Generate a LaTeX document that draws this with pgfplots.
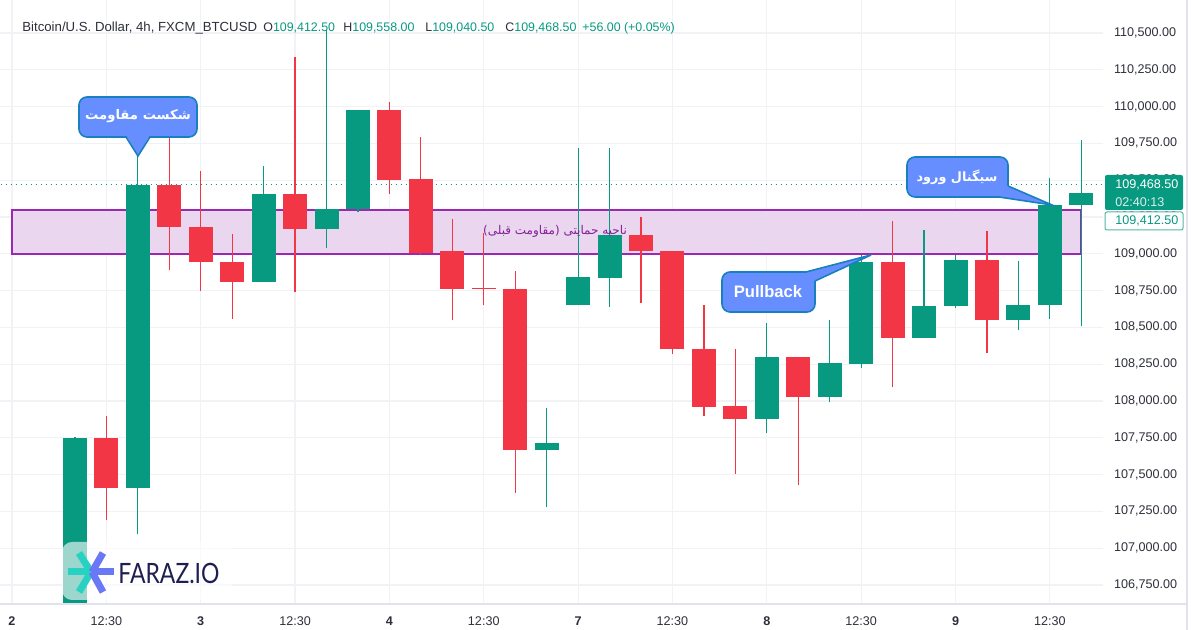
\documentclass[border=0pt]{standalone}
\usepackage{pgfplots}
\pgfplotsset{compat=1.18}
\usepackage{pgfplotstable}
\usepackage{fontspec}
\setmainfont{Liberation Sans}
\newfontfamily\fa[Script=Arabic]{DejaVu Sans}
\newfontfamily\logofont{Lato}
\TeXXeTstate=1
\definecolor{tvgreen}{HTML}{089981}
\definecolor{tvred}{HTML}{F23645}
\definecolor{zonefill}{RGB}{234,214,239}
\definecolor{zoneline}{HTML}{9C27B0}
\definecolor{gridc}{RGB}{240,242,246}
\definecolor{txt}{RGB}{45,48,58}
\definecolor{cfill}{RGB}{102,142,255}
\definecolor{cdraw}{RGB}{24,128,190}
\definecolor{logonavy}{RGB}{30,30,80}
\definecolor{logoteal}{RGB}{40,210,195}
\definecolor{logoblue}{RGB}{105,120,245}
\definecolor{framec}{RGB}{224,227,235}

\pgfplotstableread{
i O H L C
2 106450 107755 106400 107747
4 107410 109692 107095 109467
8 108809 109597 108805 109403
10 109168 110520 109040 109303
11 109303 109976 109283 109976
17 107670 107952 107280 107713
18 108651 109716 108651 108841
19 108836 109721 108638 109130
24 107878 108532 107783 108299
26 108024 108550 107990 108257
27 108250 108994 108223 108945
29 108428 109163 108428 108645
30 108642 108994 108629 108956
32 108550 108949 108484 108649
33 108649 109518 108554 109333
34 109330 109773 108509 109412
}\greentab
\pgfplotstableread{
i O H L C
3 107747 107901 107189 107410
5 109467 109795 108891 109185
6 109185 109559 108745 108945
7 108945 109137 108558 108809
9 109403 110337 108740 109168
12 109976 110032 109408 109500
13 109505 109795 108994 109005
14 109017 109238 108548 108764
15 108768 109141 108649 108761
16 108762 108881 107377 107670
20 109130 109249 108667 109017
21 109017 109017 108322 108351
22 108356 108651 107900 107961
23 107963 108356 107505 107878
25 108299 108299 107426 108024
28 108945 109224 108096 108428
31 108956 109152 108324 108550
}\redtab

\begin{document}
\begin{tikzpicture}
\path[use as bounding box, fill=white] (0,0) rectangle (600pt,315pt);
\begin{axis}[
  at={(0pt,13pt)}, anchor=south west,
  scale only axis, width=551.5pt, height=302pt,
  xmin=-0.3816, xmax=34.69, ymin=106621, ymax=110724,
  axis line style={draw=none}, tick style={draw=none},
  scaled y ticks=false,
  xtick={0,3,6,9,12,15,18,21,24,27,30,33},
  xticklabels={\textbf{2},12:30,\textbf{3},12:30,\textbf{4},12:30,\textbf{7},12:30,\textbf{8},12:30,\textbf{9},12:30},
  ytick={106750,107000,107250,107500,107750,108000,108250,108500,108750,109000,109250,109500,109750,110000,110250,110500},
  grid=major, major grid style={draw=gridc, line width=0.6pt},
  yticklabel pos=right,
  yticklabel style={/pgf/number format/fixed, /pgf/number format/fixed zerofill, /pgf/number format/precision=2, /pgf/number format/1000 sep={,}, /pgf/number format/assume math mode=true, font=\fontsize{6.3}{7}\selectfont, text=txt, anchor=west, xshift=2pt},
  xticklabel style={font=\fontsize{6.3}{7}\selectfont, text=txt, yshift=-3pt},
]
% support zone
\addplot[fill=zonefill, draw=zoneline, line width=0.9pt, forget plot] coordinates {(0,109000) (34,109000) (34,109300) (0,109300)} -- cycle;
% last price line
\addplot[tvgreen, dotted, line width=0.5pt, forget plot] coordinates {(-1,109468.5) (36,109468.5)};
% wicks
\addplot[draw=none, mark=none, forget plot, error bars/.cd, y dir=plus, y explicit, error mark=none, error bar style={draw=tvgreen, line width=0.6pt}]
  table[x=i, y=L, y error expr=\thisrow{H}-\thisrow{L}] {\greentab};
\addplot[draw=none, mark=none, forget plot, error bars/.cd, y dir=plus, y explicit, error mark=none, error bar style={draw=tvred, line width=0.6pt}]
  table[x=i, y=L, y error expr=\thisrow{H}-\thisrow{L}] {\redtab};
% bodies
\addplot[draw=none, mark=none, forget plot, error bars/.cd, y dir=plus, y explicit, error mark=none, error bar style={draw=tvgreen, line width=12pt}]
  table[x=i, y=O, y error expr=\thisrow{C}-\thisrow{O}] {\greentab};
\addplot[draw=none, mark=none, forget plot, error bars/.cd, y dir=plus, y explicit, error mark=none, error bar style={draw=tvred, line width=12pt}]
  table[x=i, y=C, y error expr=\thisrow{O}-\thisrow{C}] {\redtab};
\end{axis}

\begin{scope}[x=0.5pt, y=-0.5pt, shift={(0pt,315pt)}]
% frame lines
\draw[framec, line width=0.6pt] (0,604) -- (1187,604);
\draw[framec, line width=0.6pt] (1187,0) -- (1187,630);
% zone label
\node[font=\fa\fontsize{6}{7}\selectfont, text=zoneline!85!black] at (555,231) {\beginR ناحیه حمایتی (مقاومت قبلی)\endR};
% header
\begin{scope}[every node/.style={font=\fontsize{6.2}{7.5}\selectfont, anchor=west, inner sep=0pt, text=txt}]
\node[font=\fontsize{6.6}{7.5}\selectfont] at (22,28) {Bitcoin/U.S. Dollar, 4h, FXCM\_BTCUSD};
\node at (263,28) {O\textcolor{tvgreen}{109,412.50}};
\node at (343,28) {H\textcolor{tvgreen}{109,558.00}};
\node at (425,28) {L\textcolor{tvgreen}{109,040.50}};
\node at (505,28) {C\textcolor{tvgreen}{109,468.50}};
\node[text=tvgreen] at (582,28) {+56.00 (+0.05\%)};
\end{scope}
% price boxes
\fill[tvgreen, rounded corners=1pt] (1105,175) rectangle (1183,210);
\node[font=\fontsize{6.3}{7}\selectfont, text=white, anchor=west, inner sep=0pt] at (1115,185) {109,468.50};
\node[font=\fontsize{6.3}{7}\selectfont, text=white!85!tvgreen, anchor=west, inner sep=0pt] at (1115,202) {02:40:13};
\filldraw[fill=white, draw=tvgreen!70, line width=0.5pt, rounded corners=1pt] (1105,212) rectangle (1183,230);
\node[font=\fontsize{6.3}{7}\selectfont, text=tvgreen, anchor=west, inner sep=0pt] at (1115,221) {109,412.50};
% callout 1
\filldraw[fill=cfill, draw=cdraw, line width=0.8pt, rounded corners=4pt] (79,97) rectangle (197,137);
\fill[cfill] (126,135) -- (138,156) -- (150,135) -- cycle;
\draw[cdraw, line width=0.8pt, line join=miter] (126,137) -- (138,156) -- (150,137);
\node[font=\fa\bfseries\fontsize{6.6}{7}\selectfont, text=white] at (138,116) {\beginR شکست مقاومت\endR};
% callout 2
\filldraw[fill=cfill, draw=cdraw, line width=0.8pt, rounded corners=4pt] (907,157) rectangle (1008,197);
\fill[cfill] (999,197) -- (1052,205) -- (1008,186) -- (1000,186) -- cycle;
\draw[cdraw, line width=0.8pt] (999,197) -- (1052,205) -- (1008,186);
\node[font=\fa\bfseries\fontsize{6.4}{7}\selectfont, text=white] at (957,177) {\beginR سیگنال ورود\endR};
% callout 3
\filldraw[fill=cfill, draw=cdraw, line width=0.8pt, rounded corners=4pt] (722,272) rectangle (815,312);
\fill[cfill] (806,272.5) -- (871,255) -- (815,281) -- (806,281) -- cycle;
\draw[cdraw, line width=0.8pt] (806,272) -- (871,255) -- (815,281);
\node[font=\bfseries\fontsize{8.3}{9}\selectfont, text=white] at (768,292) {Pullback};
% logo
\fill[white, opacity=0.6, rounded corners=5pt] (62,542) rectangle (232,600);
\draw[logoteal, line width=3.5pt] (91,572) -- (79,553);
\draw[logoteal, line width=3.5pt] (91,572) -- (68,572);
\draw[logoteal, line width=3.5pt] (91,572) -- (79,592);
\draw[logoblue, line width=3.5pt] (92,572) -- (103,553);
\draw[logoblue, line width=3.5pt] (92,572) -- (114,572);
\draw[logoblue, line width=3.5pt] (92,572) -- (103,592);
\node[font=\logofont\fontsize{14}{15}\selectfont, text=logonavy, anchor=west, inner sep=0pt, xscale=0.82] at (118,573) {FARAZ.IO};
\end{scope}
\end{tikzpicture}
\end{document}
